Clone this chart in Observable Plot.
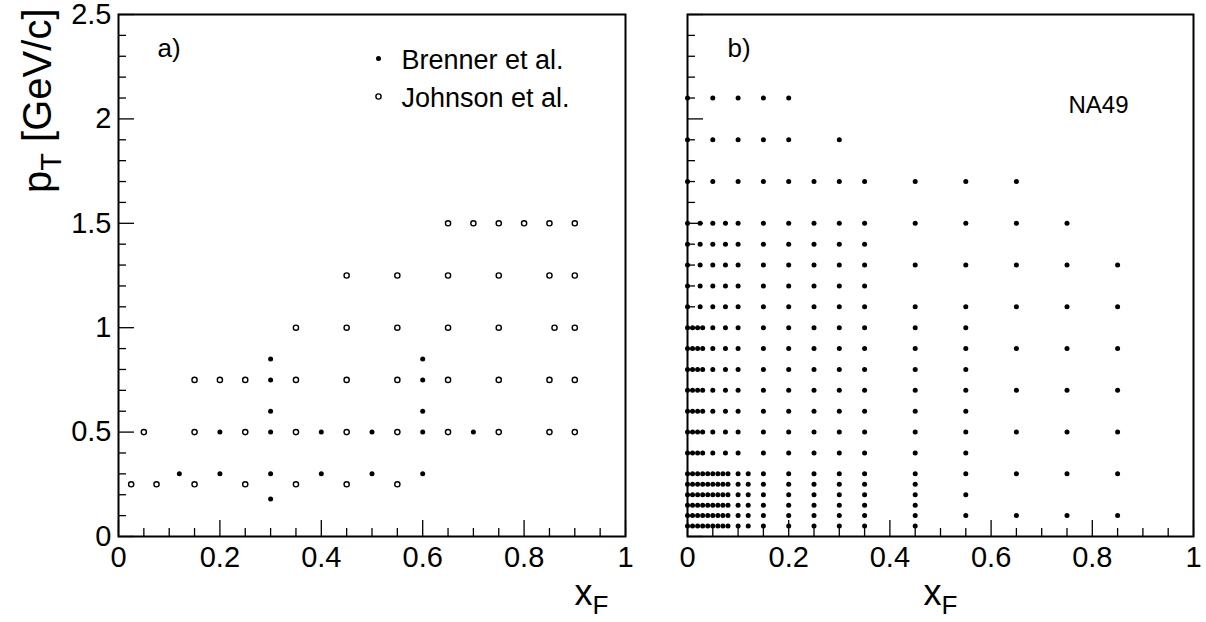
<!DOCTYPE html>
<html><head><meta charset="utf-8">
<script src="https://cdn.jsdelivr.net/npm/d3@7"></script>
<script src="https://cdn.jsdelivr.net/npm/@observablehq/plot@0.6"></script>
<style>
html,body{margin:0;padding:0;background:#fff;}
#chart{position:relative;width:1206px;height:622px;}
#chart svg{position:absolute;top:0;overflow:visible;}
</style></head><body><div id="chart"></div>
<script>
// ---- tick values and labels ----
const xMajorTicks = [0, 0.2, 0.4, 0.6, 0.8, 1];
const xTickLabels = ["0", "0.2", "0.4", "0.6", "0.8", "1"];
const xMinorTicks = [0.05,0.1,0.15,0.25,0.3,0.35,0.45,0.5,0.55,0.65,0.7,0.75,0.85,0.9,0.95];
const yMajorTicks = [0, 0.5, 1, 1.5, 2, 2.5];
const yTickLabels = ["0", "0.5", "1", "1.5", "2", "2.5"];
const yMinorTicks = [0.1,0.2,0.3,0.4,0.6,0.7,0.8,0.9,1.1,1.2,1.3,1.4,1.6,1.7,1.8,1.9,2.1,2.2,2.3,2.4];

const legendLabels = ["Brenner et al.", "Johnson et al."];
const panelLabels = ["a)", "b)"];
const experimentLabel = ["NA49"];
const xTitle = ["x_F"];
const yTitle = ["p_T [GeV/c]"];

// ---- panel a: Brenner et al. (filled), rows of [pT, xF list] ----
const brennerRows = [
  [0.85, [0.3, 0.6]],
  [0.75, [0.3, 0.6]],
  [0.6,  [0.3, 0.6]],
  [0.5,  [0.2, 0.3, 0.4, 0.5, 0.6, 0.7]],
  [0.3,  [0.12, 0.2, 0.3, 0.4, 0.5, 0.6]],
  [0.18, [0.3]]
];
// ---- panel a: Johnson et al. (open) ----
const johnsonRows = [
  [1.5,  [0.65, 0.7, 0.75, 0.8, 0.85, 0.9]],
  [1.25, [0.45, 0.55, 0.65, 0.75, 0.85, 0.9]],
  [1.0,  [0.35, 0.45, 0.55, 0.65, 0.75, 0.86, 0.9]],
  [0.75, [0.15, 0.2, 0.25, 0.35, 0.45, 0.55, 0.65, 0.75, 0.85, 0.9]],
  [0.5,  [0.05, 0.15, 0.25, 0.35, 0.45, 0.55, 0.65, 0.75, 0.85, 0.9]],
  [0.25, [0.025, 0.075, 0.15, 0.25, 0.35, 0.45, 0.55]]
];
// ---- panel b: NA49 ----
const na49Rows = [
  [0.05, [0,0.01,0.02,0.03,0.04,0.05,0.06,0.07,0.08,0.1,0.12,0.15,0.2,0.25,0.3,0.35,0.45]],
  [0.1,  [0,0.01,0.02,0.03,0.04,0.05,0.06,0.07,0.08,0.1,0.12,0.15,0.2,0.25,0.3,0.35,0.45,0.55,0.65,0.75,0.85]],
  [0.15, [0,0.01,0.02,0.03,0.04,0.05,0.06,0.07,0.08,0.1,0.12,0.15,0.2,0.25,0.3,0.35,0.45]],
  [0.2,  [0,0.01,0.02,0.03,0.04,0.05,0.06,0.07,0.08,0.1,0.12,0.15,0.2,0.25,0.3,0.35,0.45,0.55]],
  [0.25, [0,0.01,0.02,0.03,0.04,0.05,0.06,0.07,0.08,0.1,0.12,0.15,0.2,0.25,0.3,0.35,0.45]],
  [0.3,  [0,0.01,0.02,0.03,0.04,0.05,0.06,0.07,0.08,0.1,0.12,0.15,0.2,0.25,0.3,0.35,0.45,0.55,0.65,0.75,0.85]],
  [0.4,  [0,0.01,0.02,0.03,0.05,0.075,0.1,0.15,0.2,0.25,0.3,0.35,0.45,0.55]],
  [0.5,  [0,0.01,0.02,0.03,0.05,0.075,0.1,0.15,0.2,0.25,0.3,0.35,0.45,0.55,0.65,0.75,0.85]],
  [0.6,  [0,0.01,0.02,0.03,0.05,0.075,0.1,0.15,0.2,0.25,0.3,0.35,0.45,0.55]],
  [0.7,  [0,0.01,0.02,0.03,0.05,0.075,0.1,0.15,0.2,0.25,0.3,0.35,0.45,0.55,0.65,0.75,0.85]],
  [0.8,  [0,0.01,0.02,0.03,0.05,0.075,0.1,0.15,0.2,0.25,0.3,0.35,0.45,0.55]],
  [0.9,  [0,0.01,0.02,0.03,0.05,0.075,0.1,0.15,0.2,0.25,0.3,0.35,0.45,0.55,0.65,0.75,0.85]],
  [1.0,  [0,0.01,0.02,0.03,0.05,0.075,0.1,0.15,0.2,0.25,0.3,0.35,0.45,0.55]],
  [1.1,  [0,0.025,0.05,0.075,0.1,0.15,0.2,0.25,0.3,0.35,0.45,0.55,0.65,0.75,0.85]],
  [1.2,  [0,0.025,0.05,0.075,0.1,0.15,0.2,0.25,0.3,0.35]],
  [1.3,  [0,0.025,0.05,0.075,0.1,0.15,0.2,0.25,0.3,0.35,0.45,0.55,0.65,0.75,0.85]],
  [1.4,  [0,0.025,0.05,0.075,0.1,0.15,0.2,0.25,0.3,0.35]],
  [1.5,  [0,0.025,0.05,0.075,0.1,0.15,0.2,0.25,0.3,0.35,0.45,0.55,0.65,0.75]],
  [1.7,  [0,0.05,0.1,0.15,0.2,0.25,0.3,0.35,0.45,0.55,0.65]],
  [1.9,  [0,0.05,0.1,0.15,0.2,0.3]],
  [2.1,  [0,0.05,0.1,0.15,0.2]]
];

const toPoints = rows => rows.flatMap(([pt, xs]) => xs.map(xf => ({xf, pt})));
const brenner = toPoints(brennerRows);
const johnson = toPoints(johnsonRows);
const na49 = toPoints(na49Rows);

const FONT = "'Liberation Sans', Arial, Helvetica, sans-serif";
const fmtX = d => xTickLabels[xMajorTicks.indexOf(d)];
const fmtY = d => yTickLabels[yMajorTicks.indexOf(d)];

function tickMarks() {
  return [
    Plot.axisX({ticks: xMinorTicks, tickSize: -8, fill: "none", label: null, strokeWidth: 1.3}),
    Plot.axisX({ticks: xMajorTicks, tickSize: -16, fill: "none", label: null, strokeWidth: 1.3}),
    Plot.axisY({ticks: yMinorTicks, tickSize: -8, fill: "none", label: null, strokeWidth: 1.3}),
    Plot.axisY({ticks: yMajorTicks, tickSize: -16, fill: "none", label: null, strokeWidth: 1.3}),
    Plot.axisX({ticks: xMajorTicks, tickSize: 0, tickPadding: 10, tickFormat: fmtX, fontSize: 29, label: null}),
    Plot.frame({stroke: "black", strokeWidth: 2})
  ];
}

function panel(width, marginLeft, marginRight, marks) {
  return Plot.plot({
    width, height: 622, marginLeft, marginRight, marginTop: 14, marginBottom: 86,
    x: {domain: [0, 1], label: null},
    y: {domain: [0, 2.5], label: null},
    style: {fontFamily: FONT, background: "transparent", color: "black", overflow: "visible"},
    marks
  });
}

const plotA = panel(656, 118, 31, [
  ...tickMarks(),
  Plot.axisY({ticks: yMajorTicks, tickSize: 0, tickPadding: 7, tickFormat: fmtY, fontSize: 29, label: null}),
  Plot.dot(johnson, {x: "xf", y: "pt", r: 2.6, stroke: "black", strokeWidth: 1.4, fill: "white"}),
  Plot.dot(brenner, {x: "xf", y: "pt", r: 2.5, fill: "black"}),
  Plot.text(panelLabels.slice(0, 1), {frameAnchor: "top-left", lineAnchor: "middle", dx: 39, dy: 34, textAnchor: "start", fontSize: 26}),
  Plot.dot(legendLabels.slice(0, 1), {frameAnchor: "top-left", dx: 260, dy: 44, r: 2.5, fill: "black"}),
  Plot.text(legendLabels.slice(0, 1), {frameAnchor: "top-left", lineAnchor: "middle", dx: 283, dy: 46, textAnchor: "start", fontSize: 27}),
  Plot.dot(legendLabels.slice(1, 2), {frameAnchor: "top-left", dx: 260, dy: 82, r: 2.6, stroke: "black", strokeWidth: 1.4, fill: "white"}),
  Plot.text(legendLabels.slice(1, 2), {frameAnchor: "top-left", lineAnchor: "middle", dx: 283, dy: 84, textAnchor: "start", fontSize: 27}),
  Plot.text(xTitle, {frameAnchor: "bottom-right", lineAnchor: "middle", dx: -17, dy: 57, textAnchor: "end", fontSize: 36}),
  Plot.text(yTitle, {frameAnchor: "top-left", lineAnchor: "middle", dx: -80, dy: -6, rotate: -90, textAnchor: "end", fontSize: 40})
]);

const plotB = panel(550, 31, 13, [
  ...tickMarks(),
  Plot.dot(na49, {x: "xf", y: "pt", r: 2.5, fill: "black"}),
  Plot.text(panelLabels.slice(1, 2), {frameAnchor: "top-left", lineAnchor: "middle", dx: 40, dy: 34, textAnchor: "start", fontSize: 26}),
  Plot.text(experimentLabel, {frameAnchor: "top-left", lineAnchor: "middle", dx: 381, dy: 91, textAnchor: "start", fontSize: 24}),
  Plot.text(xTitle, {frameAnchor: "bottom", lineAnchor: "middle", dy: 57, fontSize: 36})
]);

// subscripts: turn "a_B" into a<tspan>B</tspan>
function subscripts(svg) {
  svg.querySelectorAll("text").forEach(t => {
    const s = t.textContent;
    if (t.children.length === 0 && s.includes("_")) {
      const fs = parseFloat(t.closest("[font-size]")?.getAttribute("font-size") || 36);
      const i = s.indexOf("_");
      const base = s.slice(0, i), sub = s.slice(i + 1, i + 2), rest = s.slice(i + 2);
      t.textContent = "";
      t.appendChild(document.createTextNode(base));
      const ts = document.createElementNS("http://www.w3.org/2000/svg", "tspan");
      ts.setAttribute("font-size", String(Math.round(fs * 0.72)));
      ts.setAttribute("dy", String(Math.round(fs * 0.25)));
      ts.textContent = sub;
      t.appendChild(ts);
      if (rest) {
        const tr = document.createElementNS("http://www.w3.org/2000/svg", "tspan");
        tr.setAttribute("dy", String(-Math.round(fs * 0.25)));
        tr.textContent = rest;
        t.appendChild(tr);
      }
    }
  });
}
subscripts(plotA); subscripts(plotB);

plotA.style.left = "0px";
plotB.style.left = "656px";
const chart = document.getElementById("chart");
chart.appendChild(plotA);
chart.appendChild(plotB);
</script></body></html>
